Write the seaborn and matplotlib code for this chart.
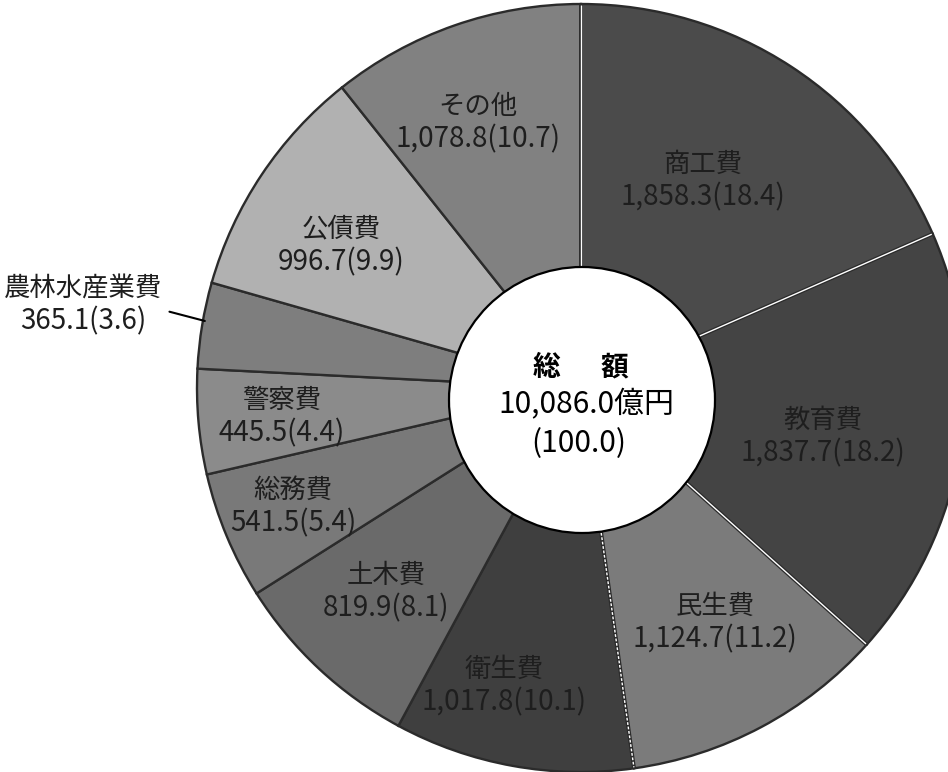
import numpy as np
import matplotlib
matplotlib.use("Agg")
import matplotlib.pyplot as plt
from matplotlib.patches import Circle
import seaborn as sns

# Expenditure by purpose (100 million yen), clockwise from 12 o'clock
categories = ["商工費", "教育費", "民生費", "衛生費", "土木費",
              "総務費", "警察費", "農林水産業費", "公債費", "その他"]
amounts = [1858.3, 1837.7, 1124.7, 1017.8, 819.9,
           541.5, 445.5, 365.1, 996.7, 1078.8]
shares = [18.4, 18.2, 11.2, 10.1, 8.1, 5.4, 4.4, 3.6, 9.9, 10.7]
total_amount = 10086.0
total_share = 100.0

colors = ["#4b4b4b", "#444444", "#7b7b7b", "#3f3f3f", "#6a6a6a",
          "#797979", "#8b8b8b", "#7e7e7e", "#b1b1b1", "#818181"]

# label placement: radius as fraction of pie radius, angle nudge (deg)
label_r = [0.628, 0.643, 0.703, 0.80, 0.734, 0.81, 0.784, 1.315, 0.727, 0.742]
label_da = [-2.8, 2.1, -1.8, 4.2, 0.7, 0.4, -0.4, 0.1, -2.9, -1.9]
white_gaps = [0, 1, 2, 3]  # boundaries (start of wedge i) drawn with a light gap

sns.set_theme(style="white")
plt.rcParams["font.family"] = ["Noto Sans CJK JP", "DejaVu Sans"]

W, H = 948, 772
fig = plt.figure(figsize=(W / 100, H / 100), dpi=100)
ax = fig.add_axes([0, 0, 1, 1])

cx, cy, R = 581, H - 388, 384
hx, hy, hr = 582, H - 400, 133

wedges, _ = ax.pie(amounts, colors=colors, startangle=90, counterclock=False,
                   center=(cx, cy), radius=R,
                   wedgeprops=dict(edgecolor="#2b2b2b", linewidth=1.7))

vals = np.array(amounts)
cum = np.concatenate([[0], np.cumsum(vals)]) / vals.sum() * 360.0
mids = (cum[:-1] + cum[1:]) / 2


def polar(theta_deg, r):
    t = np.radians(theta_deg)
    return cx + r * np.sin(t), cy + r * np.cos(t)


# light separators between the dark wedges on the right side
for i in white_gaps:
    x0, y0 = polar(cum[i], 0.3 * R)
    x1, y1 = polar(cum[i], R - 1)
    ax.plot([x0, x1], [y0, y1], color="#2b2b2b", lw=2.8, zorder=3,
            solid_capstyle="butt")
    ls = (0, (2.0, 1.2)) if i == 3 else "-"
    ax.plot([x0, x1], [y0, y1], color="white", lw=1.0, zorder=4,
            linestyle=ls, solid_capstyle="butt")

# centre hole
ax.add_patch(Circle((hx, hy), hr, facecolor="white", edgecolor="black",
                    lw=1.6, zorder=5))

txt_color = "#1e1e1e"
fs_name, fs_val = 19, 20
for i, (name, amt, sh) in enumerate(zip(categories, amounts, shares)):
    x, y = polar(mids[i] + label_da[i], label_r[i] * R)
    ax.text(x, y + 16, name, ha="center", va="center", fontsize=fs_name,
            color=txt_color, zorder=6)
    ax.text(x, y - 17, f"{amt:,.1f}({sh:.1f})", ha="center", va="center",
            fontsize=fs_val, color=txt_color, zorder=6)
    if label_r[i] > 1.0:
        x0, y0 = polar(mids[i] + 0.7, 0.995 * R)
        x1, y1 = polar(mids[i] + 1.1, 1.09 * R)
        ax.plot([x0, x1], [y0, y1], color="black", lw=1.5, zorder=6)

ax.text(hx - 1, hy + 33, "総 \u3000 額", ha="center", va="center", fontsize=20,
        fontweight="bold", color="black", zorder=6)
ax.text(hx + 4, hy - 5, f"{total_amount:,.1f}億円", ha="center", va="center",
        fontsize=21.5, color="black", zorder=6)
ax.text(hx - 3, hy - 44, f"({total_share:.1f})", ha="center", va="center",
        fontsize=21.5, color="black", zorder=6)

ax.set_xlim(0, W)
ax.set_ylim(0, H)
ax.set_aspect("equal")
ax.axis("off")

fig.savefig("out.png", dpi=100, facecolor="white")
